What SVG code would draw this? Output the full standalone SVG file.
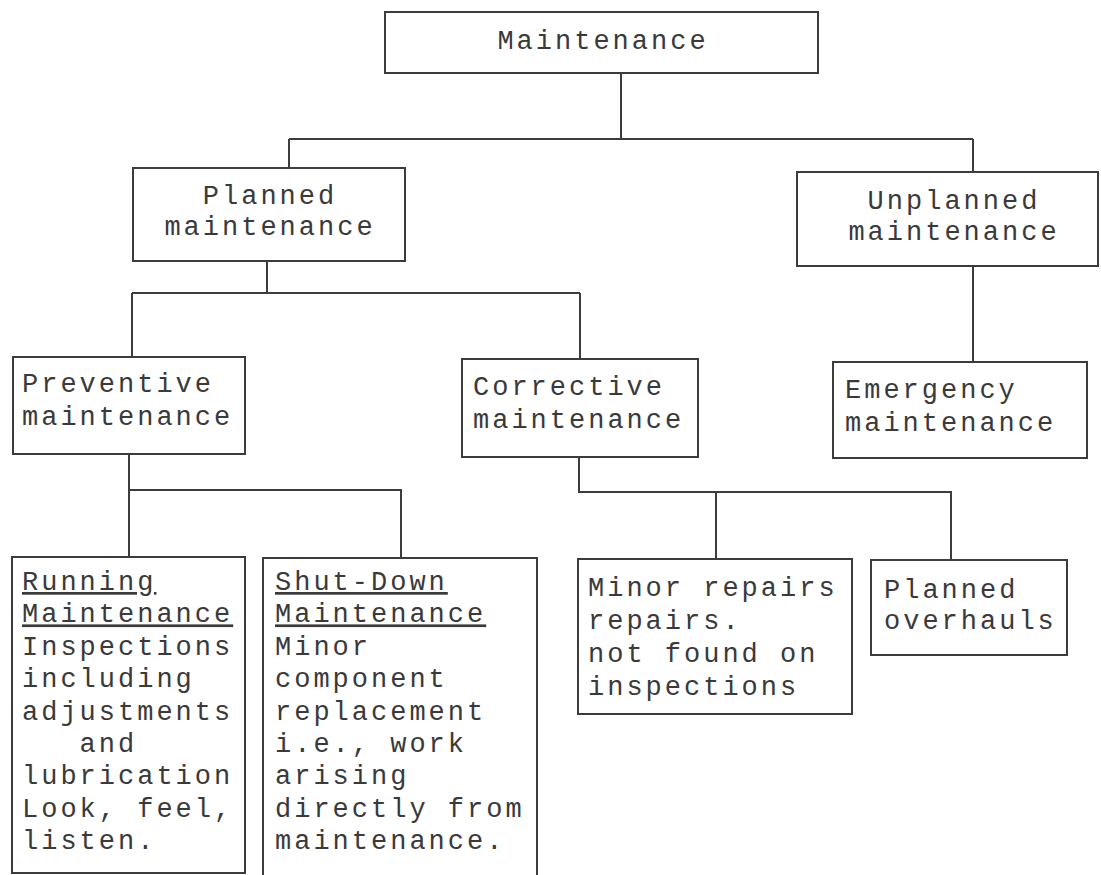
<svg xmlns="http://www.w3.org/2000/svg" width="1101" height="875" viewBox="0 0 1101 875">
<style>
.box{fill:none;stroke:#3c3c3c;stroke-width:2}
.ln{fill:none;stroke:#3c3c3c;stroke-width:2}
text{font-family:"Liberation Mono","DejaVu Sans Mono",monospace;font-size:27px;letter-spacing:3px;fill:#3a3a3a}
.c{text-anchor:middle}
.u{text-decoration:underline}
</style>
<rect width="1101" height="875" fill="#ffffff"/>
<g id="connectors">
<path class="ln" d="M621,73 V139 M289,139 H973 M289,139 V168 M973,139 V172"/>
<path class="ln" d="M267,261 V293 M132,293 H580 M132,293 V357 M580,293 V359"/>
<path class="ln" d="M973,266 V362"/>
<path class="ln" d="M129,454 V557 M129,490 H401 V558"/>
<path class="ln" d="M579,457 V492 H951 V560 M716,492 V559"/>
</g>
<g id="n-maintenance">
<rect class="box" x="385" y="12" width="433" height="61"/>
<text class="c" x="603" y="49">Maintenance</text>
</g>
<g id="n-planned">
<rect class="box" x="133" y="168" width="272" height="93"/>
<text class="c" x="270" y="204">Planned</text>
<text class="c" x="270" y="235">maintenance</text>
</g>
<g id="n-unplanned">
<rect class="box" x="797" y="172" width="301" height="94"/>
<text class="c" x="954" y="209">Unplanned</text>
<text class="c" x="954" y="240">maintenance</text>
</g>
<g id="n-preventive">
<rect class="box" x="13" y="357" width="232" height="97"/>
<text x="22" y="392">Preventive</text>
<text x="22" y="425">maintenance</text>
</g>
<g id="n-corrective">
<rect class="box" x="462" y="359" width="236" height="98"/>
<text x="473" y="395">Corrective</text>
<text x="473" y="428">maintenance</text>
</g>
<g id="n-emergency">
<rect class="box" x="833" y="362" width="254" height="96"/>
<text x="845" y="398">Emergency</text>
<text x="845" y="431">maintenance</text>
</g>
<g id="n-running">
<rect class="box" x="12" y="557" width="233" height="316"/>
<text x="22" y="590" class="u">Running</text>
<text x="22" y="622.4" class="u">Maintenance</text>
<text x="22" y="654.8">Inspections</text>
<text x="22" y="687.2">including</text>
<text x="22" y="719.6">adjustments</text>
<text x="22" y="752" xml:space="preserve">   and</text>
<text x="22" y="784.4">lubrication</text>
<text x="22" y="816.8">Look, feel,</text>
<text x="22" y="849.2">listen.</text>
</g>
<g id="n-shutdown">
<rect class="box" x="263" y="558" width="274" height="330"/>
<text x="275" y="590" class="u">Shut-Down</text>
<text x="275" y="622.4" class="u">Maintenance</text>
<text x="275" y="654.8">Minor</text>
<text x="275" y="687.2">component</text>
<text x="275" y="719.6">replacement</text>
<text x="275" y="752">i.e., work</text>
<text x="275" y="784.4">arising</text>
<text x="275" y="816.8">directly from</text>
<text x="275" y="849.2">maintenance.</text>
</g>
<g id="n-minor">
<rect class="box" x="578" y="559" width="274" height="155"/>
<text x="588" y="596">Minor repairs</text>
<text x="588" y="629">repairs.</text>
<text x="588" y="662">not found on</text>
<text x="588" y="695">inspections</text>
</g>
<g id="n-overhauls">
<rect class="box" x="871" y="560" width="196" height="95"/>
<text x="884" y="598">Planned</text>
<text x="884" y="629">overhauls</text>
</g>
</svg>
